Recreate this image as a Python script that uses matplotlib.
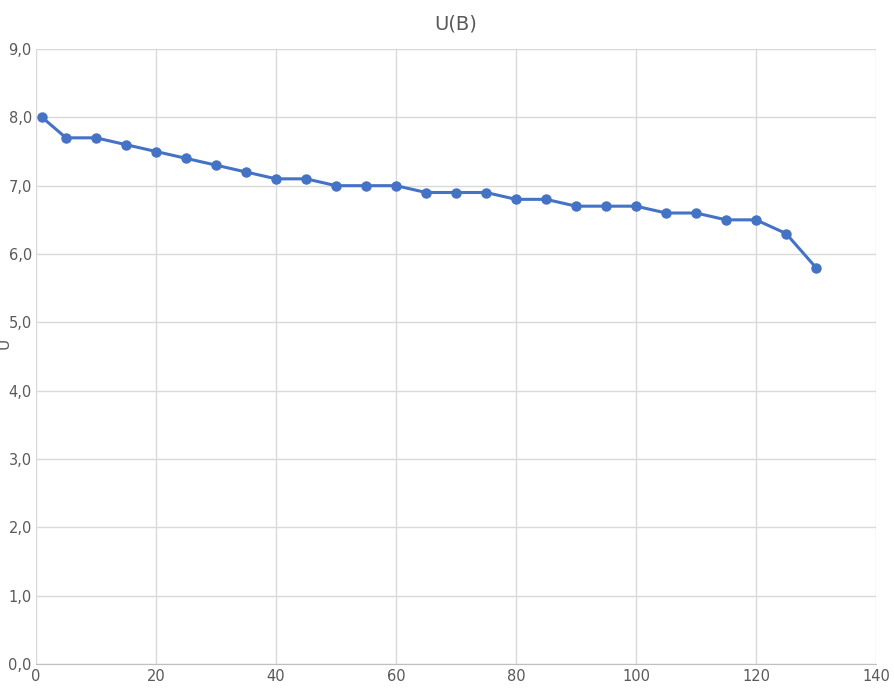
import matplotlib

matplotlib.use("Agg")
import matplotlib.pyplot as plt
from matplotlib.ticker import FuncFormatter

X_VALS = [1, 5, 10, 15, 20, 25, 30, 35, 40, 45, 50, 55, 60, 65,
          70, 75, 80, 85, 90, 95, 100, 105, 110, 115, 120, 125, 130]
U_VALS = [8.0, 7.7, 7.7, 7.6, 7.5, 7.4, 7.3, 7.2, 7.1, 7.1, 7.0, 7.0, 7.0, 6.9,
          6.9, 6.9, 6.8, 6.8, 6.7, 6.7, 6.7, 6.6, 6.6, 6.5, 6.5, 6.3, 5.8]

fig = plt.figure(figsize=(8.94, 7.0), dpi=100)
ax = fig.add_axes([0.0403, 0.0514, 0.9396, 0.8786])
ax.plot(X_VALS, U_VALS, "o-", color="#4472C4", lw=2.2, ms=6.5, zorder=3)

ax.set_xlim(0, 140)
ax.set_ylim(0, 9)
ax.set_xticks(range(0, 141, 20))
ax.set_yticks(range(0, 10))
ax.yaxis.set_major_formatter(FuncFormatter(lambda v, _: f"{v:.1f}".replace(".", ",")))
ax.grid(True, color="#D9D9D9", lw=1)
ax.set_axisbelow(True)
for s in ("top", "right", "left"):
    ax.spines[s].set_visible(False)
ax.spines["bottom"].set_color("#BFBFBF")
ax.tick_params(length=0, colors="#595959", labelsize=10.5)
ax.tick_params(axis="y", pad=3)
ax.set_title("U(B)", color="#595959", fontsize=14, pad=14)
fig.text(-0.004, 0.51, "U", rotation=90, color="#595959", fontsize=11,
         va="center")

fig.savefig("out.png", dpi=100)
